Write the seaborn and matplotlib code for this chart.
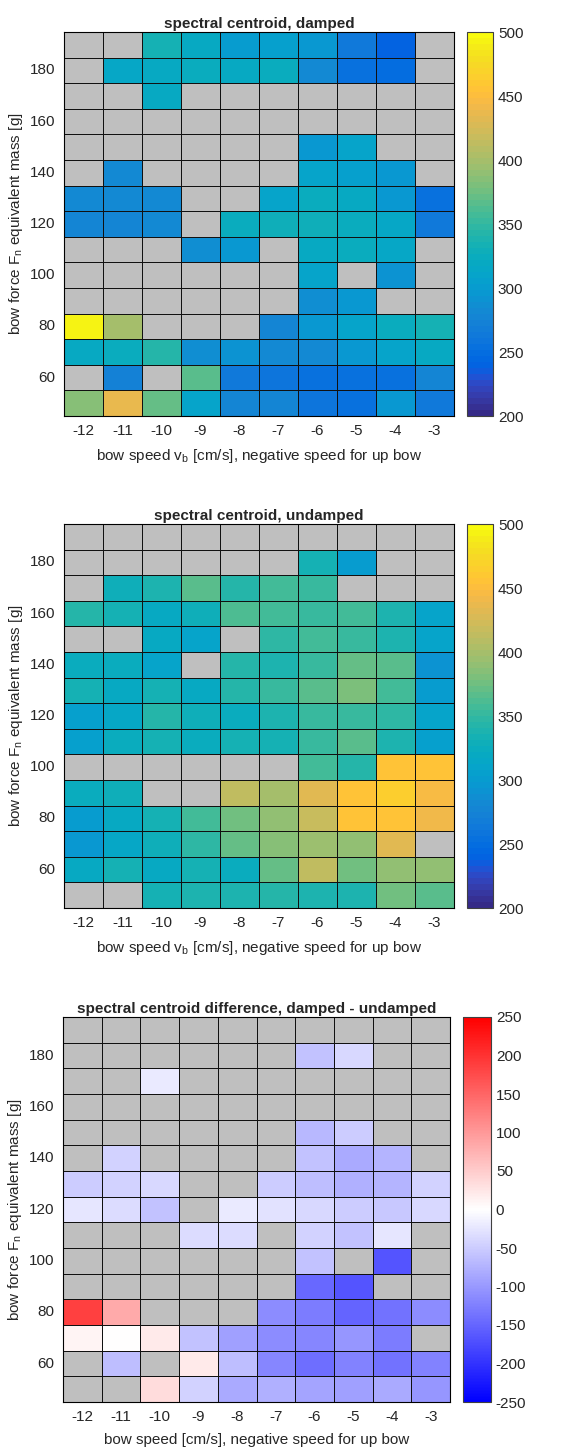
import numpy as np
import pandas as pd
import matplotlib
matplotlib.use("Agg")
import matplotlib.pyplot as plt
from matplotlib.colors import ListedColormap, LinearSegmentedColormap
import seaborn as sns

nan = np.nan

speeds = [-12, -11, -10, -9, -8, -7, -6, -5, -4, -3]
forces = [190, 180, 170, 160, 150, 140, 130, 120, 110, 100, 90, 80, 70, 60, 50]
ytick_vals = [180, 160, 140, 120, 100, 80, 60]

# spectral centroid, damped (rows: force 190 -> 50, cols: speed -12 -> -3)
damped = [
    [nan, nan, 335, 320, 300, 305, 298, 265, 238, nan],
    [nan, 315, 320, 325, 320, 322, 280, 255, 250, nan],
    [nan, nan, 318, nan, nan, nan, nan, nan, nan, nan],
    [nan, nan, nan, nan, nan, nan, nan, nan, nan, nan],
    [nan, nan, nan, nan, nan, nan, 295, 312, nan, nan],
    [nan, 280, nan, nan, nan, nan, 310, 305, 295, nan],
    [280, 280, 282, nan, nan, 312, 322, 318, 295, 255],
    [275, 278, 280, nan, 325, 328, 330, 325, 313, 262],
    [nan, nan, nan, 285, 298, nan, 318, 325, 315, nan],
    [nan, nan, nan, nan, nan, nan, 312, nan, 290, nan],
    [nan, nan, nan, nan, nan, nan, 285, 298, nan, nan],
    [495, 400, nan, nan, nan, 278, 298, 310, 325, 332],
    [318, 322, 345, 285, 290, 280, 283, 298, 310, 318],
    [nan, 272, nan, 365, 262, 258, 256, 254, 254, 275],
    [383, 435, 372, 310, 275, 275, 258, 252, 298, 262],
]

# spectral centroid, undamped
undamped = [
    [nan, nan, nan, nan, nan, nan, nan, nan, nan, nan],
    [nan, nan, nan, nan, nan, nan, 335, 300, nan, nan],
    [nan, 328, 340, 365, 345, 358, 352, nan, nan, nan],
    [345, 332, 318, 328, 360, 356, 354, 358, 338, 312],
    [nan, nan, 318, 312, nan, 348, 355, 350, 338, 312],
    [326, 322, 312, nan, 345, 338, 354, 373, 365, 290],
    [332, 318, 335, 318, 345, 350, 365, 380, 356, 302],
    [305, 315, 345, 330, 322, 338, 350, 354, 348, 310],
    [305, 322, 335, 322, 332, 332, 350, 367, 338, 305],
    [nan, nan, nan, nan, nan, nan, 358, 345, 455, 455],
    [325, 327, nan, nan, 415, 400, 430, 455, 465, 448],
    [300, 318, 335, 356, 375, 388, 420, 455, 455, 440],
    [298, 315, 330, 348, 372, 385, 395, 390, 430, nan],
    [320, 335, 320, 335, 326, 373, 412, 375, 392, 392],
    [nan, nan, 332, 340, 340, 342, 340, 336, 375, 365],
]

# spectral centroid difference, damped - undamped
difference = [
    [nan, nan, nan, nan, nan, nan, nan, nan, nan, nan],
    [nan, nan, nan, nan, nan, nan, -59, -39, nan, nan],
    [nan, nan, -20, nan, nan, nan, nan, nan, nan, nan],
    [nan, nan, nan, nan, nan, nan, nan, nan, nan, nan],
    [nan, nan, nan, nan, nan, nan, -69, -49, nan, nan],
    [nan, -44, nan, nan, nan, nan, -59, -83, -74, nan],
    [-49, -44, -39, nan, nan, -49, -64, -78, -74, -44],
    [-25, -34, -59, nan, -20, -29, -39, -49, -54, -39],
    [nan, nan, nan, -34, -34, nan, -44, -59, -25, nan],
    [nan, nan, nan, nan, nan, nan, -59, nan, -167, nan],
    [nan, nan, nan, nan, nan, nan, -147, -167, nan, nan],
    [186, 83, nan, nan, nan, -113, -127, -152, -137, -113],
    [10, 0, 20, -59, -93, -113, -118, -103, -127, nan],
    [nan, -64, nan, 20, -64, -118, -142, -123, -137, -123],
    [nan, nan, 34, -44, -83, -78, -88, -93, -83, -103],
]

parula_data = [[0.2081, 0.1663, 0.5292], [0.2116, 0.1898, 0.5777], [0.2123, 0.2138, 0.6270],
    [0.2081, 0.2386, 0.6771], [0.1959, 0.2645, 0.7279], [0.1707, 0.2919, 0.7792],
    [0.1253, 0.3242, 0.8303], [0.0591, 0.3598, 0.8683], [0.0117, 0.3875, 0.8820],
    [0.0060, 0.4086, 0.8828], [0.0165, 0.4266, 0.8786], [0.0329, 0.4430, 0.8720],
    [0.0498, 0.4586, 0.8641], [0.0629, 0.4737, 0.8554], [0.0723, 0.4887, 0.8467],
    [0.0779, 0.5040, 0.8384], [0.0793, 0.5200, 0.8312], [0.0749, 0.5375, 0.8263],
    [0.0641, 0.5570, 0.8240], [0.0488, 0.5772, 0.8228], [0.0343, 0.5966, 0.8199],
    [0.0265, 0.6137, 0.8135], [0.0239, 0.6287, 0.8038], [0.0231, 0.6418, 0.7913],
    [0.0228, 0.6535, 0.7768], [0.0267, 0.6642, 0.7607], [0.0384, 0.6743, 0.7436],
    [0.0590, 0.6838, 0.7254], [0.0843, 0.6928, 0.7062], [0.1133, 0.7015, 0.6859],
    [0.1453, 0.7098, 0.6646], [0.1801, 0.7177, 0.6424], [0.2178, 0.7250, 0.6193],
    [0.2586, 0.7317, 0.5954], [0.3022, 0.7376, 0.5712], [0.3482, 0.7424, 0.5473],
    [0.3953, 0.7459, 0.5244], [0.4420, 0.7481, 0.5033], [0.4871, 0.7491, 0.4840],
    [0.5300, 0.7491, 0.4661], [0.5709, 0.7485, 0.4494], [0.6099, 0.7473, 0.4337],
    [0.6473, 0.7456, 0.4188], [0.6834, 0.7435, 0.4044], [0.7184, 0.7411, 0.3905],
    [0.7525, 0.7384, 0.3768], [0.7858, 0.7356, 0.3633], [0.8185, 0.7327, 0.3498],
    [0.8507, 0.7299, 0.3360], [0.8824, 0.7274, 0.3217], [0.9139, 0.7258, 0.3063],
    [0.9450, 0.7261, 0.2886], [0.9739, 0.7314, 0.2666], [0.9938, 0.7455, 0.2403],
    [0.9990, 0.7653, 0.2164], [0.9955, 0.7861, 0.1967], [0.9880, 0.8066, 0.1794],
    [0.9789, 0.8271, 0.1633], [0.9697, 0.8481, 0.1475], [0.9626, 0.8705, 0.1309],
    [0.9589, 0.8949, 0.1132], [0.9598, 0.9218, 0.0948], [0.9661, 0.9514, 0.0755],
    [0.9763, 0.9831, 0.0538]]
parula = ListedColormap(parula_data, name="parula")
bwr = LinearSegmentedColormap.from_list("bwr_m", [(0, 0, 1), (1, 1, 1), (1, 0, 0)], N=256)

sns.set_style("white")
plt.rcParams["font.family"] = ["Liberation Sans", "DejaVu Sans"]
plt.rcParams["mathtext.fontset"] = "custom"
plt.rcParams["mathtext.rm"] = "Liberation Sans"
plt.rcParams["mathtext.it"] = "Liberation Sans"
plt.rcParams["axes.unicode_minus"] = False

fig = plt.figure(figsize=(5.8, 14.52), dpi=100)

xl = "bow speed v$_{\\mathrm{b}}$ [cm/s], negative speed for up bow"
panels = [
    (damped, parula, 200, 500, [200, 250, 300, 350, 400, 450, 500],
     "spectral centroid, damped", xl,
     [64, 32, 390, 384], [467, 32, 26, 384]),
    (undamped, parula, 200, 500, [200, 250, 300, 350, 400, 450, 500],
     "spectral centroid, undamped", xl,
     [64, 524, 390, 384], [467, 524, 26, 384]),
    (difference, bwr, -250, 250, [-250, -200, -150, -100, -50, 0, 50, 100, 150, 200, 250],
     "spectral centroid difference, damped - undamped", "bow speed [cm/s], negative speed for up bow",
     [63, 1017, 387, 385], [463, 1017, 28, 385]),
]

W, H = 580.0, 1452.0
def rect(px):
    x, y, w, h = px
    return [x / W, 1 - (y + h) / H, w / W, h / H]

FS = 11
for data, cmap, vmin, vmax, cticks, title, xlabel, axpx, cbpx in panels:
    ax = fig.add_axes(rect(axpx))
    cax = fig.add_axes(rect(cbpx))
    df = pd.DataFrame(data, index=forces, columns=speeds, dtype=float)
    bg = pd.DataFrame(np.zeros(df.shape), index=forces, columns=speeds)
    sns.heatmap(bg, ax=ax, cmap=ListedColormap(["#bfbfbf"]), cbar=False,
                linewidths=0.5, linecolor="#111111")
    sns.heatmap(df, ax=ax, cmap=cmap, vmin=vmin, vmax=vmax, cbar_ax=cax,
                linewidths=0.5, linecolor="#111111")
    ax.set_xticks(np.arange(len(speeds)) + 0.5)
    ax.set_xticklabels([str(s) for s in speeds], rotation=0)
    ypos = [forces.index(v) + 0.5 for v in ytick_vals]
    ax.set_yticks(ypos)
    ax.set_yticklabels([str(v) for v in ytick_vals], rotation=0)
    ax.tick_params(direction="in", length=3, width=0.6, top=True, right=True,
                   labelsize=FS, colors="#262626", labelcolor="#262626", pad=6)
    for s in ax.spines.values():
        s.set_visible(True)
        s.set_color("black")
        s.set_linewidth(0.8)
    ax.set_title(title, fontsize=FS, fontweight="bold", pad=3)
    ax.set_xlabel(xlabel, fontsize=FS, color="#262626", labelpad=6)
    ax.set_ylabel("bow force F$_{\\mathrm{n}}$ equivalent mass [g]", fontsize=FS,
                  color="#262626", labelpad=4)
    cb = ax.collections[-1].colorbar
    cb.set_ticks(cticks)
    cb.ax.tick_params(direction="in", length=3, width=0.6, labelsize=FS,
                      colors="#262626", labelcolor="#262626")
    cb.outline.set_edgecolor("#404040")
    cb.outline.set_linewidth(0.8)

fig.savefig("out.png", dpi=100)
